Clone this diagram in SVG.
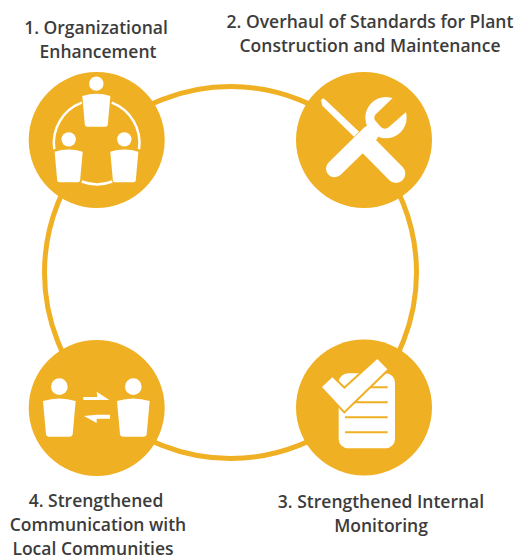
<svg xmlns="http://www.w3.org/2000/svg" width="516" height="559" viewBox="0 0 516 559">
<style>
.disc{fill:#f0b023}
.w{fill:#fff}
.arc{fill:none;stroke:#fff;stroke-width:2.5}
.ln{stroke:#f0b023;stroke-width:6}
.ring{fill:none;stroke:#f0b023;stroke-width:5}
text{font-family:"Open Sans","Liberation Sans",sans-serif;font-size:17.5px;font-weight:600;fill:#3c3c3c;text-anchor:middle}
</style>
<defs>
<g id="person">
<circle cx="0" cy="0" r="25" class="w"/>
<path class="w" d="M-49,43Q0,28 49,43L40,143Q39,150 32,150L-32,150Q-39,150 -40,143Z"/>
</g>
</defs>
<g id="connectors"><circle class="ring" cx="230.5" cy="272.5" r="186"/></g>
<g id="node1">
<circle class="disc" cx="96.7" cy="140" r="68"/>
<g transform="translate(20,70) scale(.3333)">
<use href="#person" transform="translate(229,41) scale(.86)"/>
<use href="#person" transform="translate(146,208) scale(.86)"/>
<use href="#person" transform="translate(313,208) scale(.86)"/>
</g>
<path class="arc" d="M81.7,102.7A43,43 0 0 0 54.3,149.3M111.7,102.7A43,43 0 0 1 139,149.3M81.7,181.5A43,43 0 0 0 112.3,181.5"/>
<text x="96" y="34">1. Organizational</text>
<text x="98" y="58">Enhancement</text>
</g>
<g id="node2">
<circle class="disc" cx="364" cy="140" r="68"/>
<g transform="translate(290,70) scale(.3333)">
<path fill="none" stroke="#fff" stroke-width="52" stroke-linecap="round" d="M134,296L240,192"/>
<circle class="w" cx="288" cy="143" r="62"/>
<path class="disc" d="M330,63L255,135Q250,145 257,153L272,170Q283,181 296,172L372,105Z"/>
<path class="w" d="M93,90L100,85L110,93L207,185L192,200L97,107Z"/>
<path fill="none" stroke="#fff" stroke-width="56" stroke-linecap="round" d="M238,230L318,311"/>
</g>
<text x="370" y="28">2. Overhaul of Standards for Plant</text>
<text x="370" y="52">Construction and Maintenance</text>
</g>
<g id="node3">
<circle class="disc" cx="364" cy="407.5" r="68"/>
<g transform="translate(290,335) scale(.3333)">
<rect class="w" x="146" y="115" width="169" height="225" rx="28"/>
<path class="ln" d="M165,157H293M165,202H293M165,247H293M165,292H293"/>
<path class="w" stroke="#f0b023" stroke-width="12" paint-order="stroke" d="M96,156L127,127L163,162L262,72L292,103L163,228Z"/>
</g>
<text x="381" y="508">3. Strengthened Internal</text>
<text x="381" y="532">Monitoring</text>
</g>
<g id="node4">
<circle class="disc" cx="96.7" cy="408" r="68"/>
<g transform="translate(20,340) scale(.3333)">
<use href="#person" transform="translate(118,140)"/>
<use href="#person" transform="translate(340,140)"/>
<path class="w" d="M190,171H232L230,155L268,180H190ZM270,224H230V236H270ZM192,228L230,249V224Z"/>
</g>
<text x="96" y="507">4. Strengthened</text>
<text x="98" y="531">Communication with</text>
<text x="93" y="555">Local Communities</text>
</g>
</svg>
